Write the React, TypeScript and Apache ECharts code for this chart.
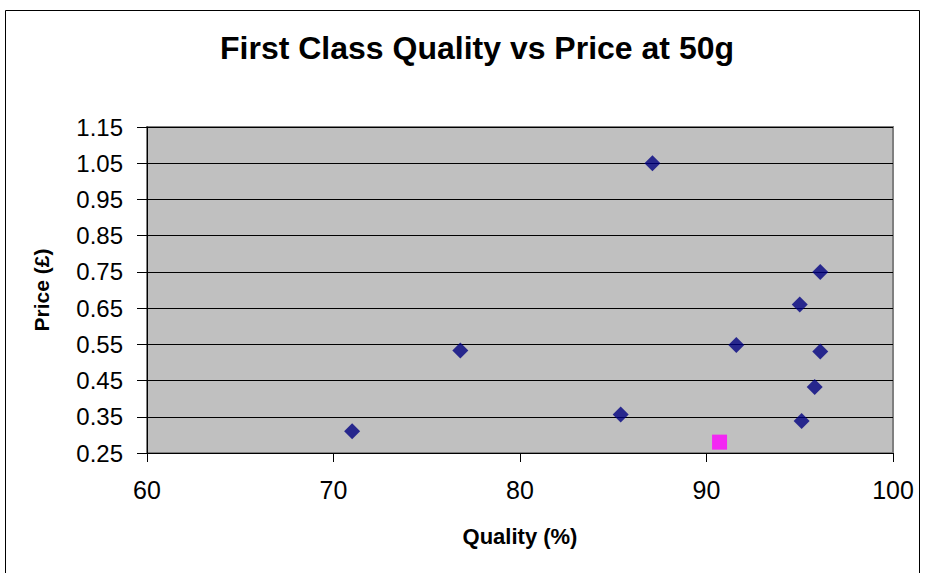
import React, { useEffect, useRef } from "react";
import * as echarts from "echarts";

// Quality (%) and price (£) of first class 50g items
const quality = [71.0, 76.8, 85.4, 87.1, 91.6, 95.0, 96.1, 96.1, 95.8, 95.1];
const price = [0.31, 0.533, 0.356, 1.05, 0.548, 0.66, 0.75, 0.53, 0.432, 0.338];

// Highlighted item
const highlightQuality = [90.7];
const highlightPrice = [0.28];

const xTicks = { min: 60, max: 100, step: 10 };
const yTicks = { min: 0.25, max: 1.15, step: 0.1 };

const FONT = "'Liberation Sans', Arial, sans-serif";

export default function App() {
  const ref = useRef<HTMLDivElement>(null);

  useEffect(() => {
    if (!ref.current) return;
    const chart = echarts.init(ref.current, null, { renderer: "svg" });
    const points = quality.map((q, i) => [q, price[i]]);
    const highlight = highlightQuality.map((q, i) => [q, highlightPrice[i]]);

    chart.setOption({
      animation: false,
      backgroundColor: "#ffffff",
      textStyle: { fontFamily: FONT },
      title: {
        text: "First Class Quality vs Price at 50g",
        left: 472,
        textAlign: "center",
        top: 27,
        textStyle: { fontFamily: FONT, fontSize: 32, fontWeight: "bold", color: "#000" },
      },
      grid: {
        left: 147,
        top: 127,
        width: 746,
        height: 326,
        show: true,
        backgroundColor: "#C0C0C0",
        borderColor: "#808080",
        borderWidth: 2,
      },
      xAxis: {
        type: "value",
        min: xTicks.min,
        max: xTicks.max,
        interval: xTicks.step,
        name: "Quality (%)",
        nameLocation: "middle",
        nameGap: 72,
        nameTextStyle: { fontFamily: FONT, fontSize: 22, fontWeight: "bold", color: "#000" },
        axisLine: { show: true, lineStyle: { color: "#000", width: 1 } },
        axisTick: { show: true, inside: false, length: 9, lineStyle: { color: "#000" } },
        axisLabel: { margin: 24, fontFamily: FONT, fontSize: 25, color: "#000" },
        splitLine: { show: false },
      },
      yAxis: {
        type: "value",
        min: yTicks.min,
        max: yTicks.max,
        interval: yTicks.step,
        name: "Price (£)",
        nameLocation: "middle",
        nameGap: 95,
        nameRotate: 90,
        nameTextStyle: { fontFamily: FONT, fontSize: 21, fontWeight: "bold", color: "#000" },
        axisLine: { show: true, lineStyle: { color: "#000", width: 1 } },
        axisTick: { show: true, inside: false, length: 10, lineStyle: { color: "#000" } },
        axisLabel: {
          margin: 24,
          fontFamily: FONT,
          fontSize: 24,
          color: "#000",
          formatter: (v: number) => v.toFixed(2),
        },
        splitLine: { show: true, lineStyle: { color: "#000", width: 1 } },
      },
      series: [
        {
          type: "scatter",
          data: points,
          symbol: "diamond",
          symbolSize: 16,
          itemStyle: { color: "#000080" },
        },
        {
          type: "scatter",
          data: highlight,
          symbol: "rect",
          symbolSize: 15,
          itemStyle: { color: "#FF00FF" },
        },
      ],
      graphic: [
        {
          type: "rect",
          shape: { x: 5.5, y: 10.5, width: 914, height: 580 },
          style: { fill: "none", stroke: "#000", lineWidth: 1 },
          silent: true,
        },
      ],
    });

    return () => chart.dispose();
  }, []);

  return (
    <div
      ref={ref}
      style={{ position: "fixed", left: 0, top: 0, width: 926, height: 573 }}
    />
  );
}
